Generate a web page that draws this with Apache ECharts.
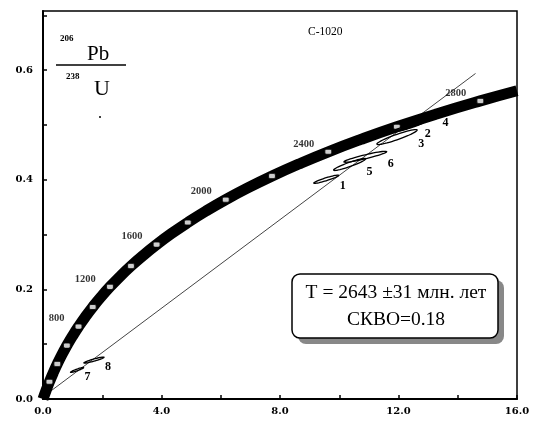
<!DOCTYPE html>
<html>
<head>
<meta charset="utf-8">
<script src="https://cdn.jsdelivr.net/npm/echarts@6/dist/echarts.min.js"></script>
<style>
html,body{margin:0;padding:0;background:#fff;}
#chart{width:539px;height:424px;}
</style>
</head>
<body>
<div id="chart"></div>
<script>
// Concordia curve points (207Pb/235U, 206Pb/238U), every 100 Ma; last point at the right frame
const concordiaX = [0, 0.1035, 0.2177, 0.3437, 0.4828, 0.6363, 0.8056, 0.9925, 1.1987, 1.4264, 1.6774, 1.9546, 2.2603, 2.5977, 2.9701, 3.3810, 3.8344, 4.3348, 4.8870, 5.4963, 6.1686, 6.9107, 7.7295, 8.6330, 9.6300, 10.7302, 11.9443, 13.2840, 14.7625, 16.0];
const concordiaY = [0, 0.0156, 0.0315, 0.0476, 0.0640, 0.0807, 0.0975, 0.1147, 0.1321, 0.1498, 0.1678, 0.1861, 0.2046, 0.2234, 0.2426, 0.2620, 0.2817, 0.3018, 0.3221, 0.3428, 0.3638, 0.3851, 0.4067, 0.4287, 0.4511, 0.4737, 0.4968, 0.5202, 0.5440, 0.5625];
// Age markers on the concordia (Ma)
const markerAges = [200, 400, 600, 800, 1000, 1200, 1400, 1600, 1800, 2000, 2200, 2400, 2600, 2800];
const markerX = [0.2177, 0.4828, 0.8056, 1.1987, 1.6774, 2.2603, 2.9701, 3.8344, 4.8870, 6.1686, 7.7295, 9.6300, 11.9443, 14.7625];
const markerY = [0.0315, 0.0640, 0.0975, 0.1321, 0.1678, 0.2046, 0.2426, 0.2817, 0.3221, 0.3638, 0.4067, 0.4511, 0.4968, 0.5440];
const labeledAges = [800, 1200, 1600, 2000, 2400, 2800];
// Discordia line end points
const discordiaX = [0.15, 14.6];
const discordiaY = [0.010, 0.594];
// Analyses (error ellipses)
const pointLabels = ['1', '2', '3', '4', '5', '6', '7', '8'];
const pointX  = [9.56, 12.35, 11.95, 13.10, 10.35, 10.88, 1.15, 1.72];
const pointY  = [0.401, 0.497, 0.478, 0.516, 0.428, 0.442, 0.053, 0.071];
const errX    = [0.42, 0.50, 0.68, 0.35, 0.54, 0.72, 0.22, 0.34];
const errY    = [0.0075, 0.009, 0.0137, 0.0055, 0.011, 0.010, 0.0045, 0.0055];
const errRho  = [0.93, 0.93, 0.93, 0.93, 0.93, 0.93, 0.93, 0.93];
// Axis tick labels
const xTickLabels = {0: '0.0', 4: '4.0', 8: '8.0', 12: '12.0', 16: '16.0'};
const yTickLabels = {0: '0.0', 2: '0.2', 4: '0.4', 6: '0.6'};

const chart = echarts.init(document.getElementById('chart'), null, {renderer: 'canvas'});

const tickFont = {color: '#000', fontFamily: 'DejaVu Serif', fontWeight: 'bold', fontSize: 10};

const ellipseData = pointX.map((x, i) => [x, pointY[i], errX[i], errY[i], errRho[i], i]);

const option = {
  animation: false,
  grid: {left: 43, right: 22, top: 11, bottom: 25, show: true, borderColor: '#000', borderWidth: 1.5, backgroundColor: 'transparent'},
  xAxis: {
    type: 'value', min: 0, max: 16, interval: 2,
    axisLine: {show: true, onZero: false, lineStyle: {color: '#000', width: 2}},
    axisTick: {show: true, inside: true, length: 4, lineStyle: {color: '#000', width: 1.5}},
    splitLine: {show: false},
    axisLabel: Object.assign({margin: 7, formatter: v => (xTickLabels[Math.round(v)] !== undefined && Math.abs(v - Math.round(v)) < 1e-6) ? xTickLabels[Math.round(v)] : ''}, tickFont)
  },
  yAxis: {
    type: 'value', min: 0, max: 0.708, interval: 0.1,
    axisLine: {show: true, onZero: false, lineStyle: {color: '#000', width: 2}},
    axisTick: {show: true, inside: true, length: 4, lineStyle: {color: '#000', width: 1.5}},
    splitLine: {show: false},
    axisLabel: Object.assign({margin: 10, showMaxLabel: false, formatter: v => {
      const k = Math.round(v * 10);
      if (Math.abs(v * 10 - k) > 1e-6) return '';
      return yTickLabels[k] !== undefined ? yTickLabels[k] : '';
    }}, tickFont)
  },
  series: [
    {
      type: 'line', name: 'discordia', data: discordiaX.map((x, i) => [x, discordiaY[i]]),
      symbol: 'none', lineStyle: {color: '#444', width: 1}, z: 2
    },
    {
      type: 'line', name: 'concordia', data: concordiaX.map((x, i) => [x, concordiaY[i]]),
      symbol: 'none', smooth: true, clip: true, lineStyle: {color: '#000', width: 11, cap: 'butt'}, z: 3
    },
    {
      type: 'scatter', name: 'ages', data: markerX.map((x, i) => [x, markerY[i], markerAges[i]]),
      symbol: 'roundRect', symbolSize: [7, 5],
      itemStyle: {color: '#fff', borderColor: '#000', borderWidth: 1}, z: 4,
      label: {
        show: true, position: 'left', distance: 10, offset: [0, -8],
        fontFamily: 'Liberation Serif', fontWeight: 'bold', fontSize: 10.5, color: '#000',
        formatter: p => labeledAges.indexOf(p.value[2]) >= 0 ? String(p.value[2]) : ''
      }
    },
    {
      type: 'custom', name: 'ellipses', data: ellipseData, z: 5, clip: true,
      renderItem: (params, api) => {
        const cx = api.value(0), cy = api.value(1), sx = api.value(2), sy = api.value(3), r = api.value(4);
        const idx = api.value(5);
        const pts = [];
        const n = 48;
        for (let k = 0; k <= n; k++) {
          const th = 2 * Math.PI * k / n;
          const px = cx + sx * Math.cos(th);
          const py = cy + sy * (r * Math.cos(th) + Math.sqrt(1 - r * r) * Math.sin(th));
          pts.push(api.coord([px, py]));
        }
        const c = api.coord([cx, cy]);
        const right = api.coord([cx + sx, cy]);
        return {
          type: 'group',
          children: [
            {type: 'polygon', shape: {points: pts}, style: {fill: 'rgba(255,255,255,0)', stroke: '#000', lineWidth: 1.3}},
            {type: 'text', style: {text: pointLabels[idx], x: right[0] + 4, y: c[1] + 7, fill: '#000',
              font: 'bold 12px "Liberation Serif"', textAlign: 'center', textVerticalAlign: 'middle'}}
          ]
        };
      }
    }
  ],
  graphic: [
    {type: 'text', left: 60, top: 34, style: {text: '206', font: 'bold 9px "Liberation Serif"', fill: '#000'}},
    {type: 'text', left: 87, top: 44, style: {text: 'Pb', font: '21px "Liberation Serif"', fill: '#000'}},
    {type: 'line', shape: {x1: 56, y1: 65, x2: 126, y2: 65}, style: {stroke: '#000', lineWidth: 1.5}},
    {type: 'text', left: 66, top: 72, style: {text: '238', font: 'bold 9px "Liberation Serif"', fill: '#000'}},
    {type: 'text', left: 94, top: 78, style: {text: 'U', font: '22px "Liberation Serif"', fill: '#000'}},
    {type: 'circle', shape: {cx: 100, cy: 117, r: 1}, style: {fill: '#000'}},
    {type: 'text', left: 308, top: 26, style: {text: 'C-1020', font: '11.5px "Liberation Serif"', fill: '#000'}},
    {type: 'rect', shape: {x: 298, y: 280, width: 206, height: 64, r: 8}, style: {fill: '#888'}, z: 10},
    {type: 'rect', shape: {x: 292, y: 274, width: 206, height: 64, r: 8}, style: {fill: '#fff', stroke: '#000', lineWidth: 1.5}, z: 11},
    {type: 'text', x: 396, y: 293, z: 12, style: {text: 'T = 2643 ±31 млн. лет', font: '19.5px "Liberation Serif"', fill: '#000', textAlign: 'center', textVerticalAlign: 'middle'}},
    {type: 'text', x: 396, y: 320, z: 12, style: {text: 'СКВО=0.18', font: '19.5px "Liberation Serif"', fill: '#000', textAlign: 'center', textVerticalAlign: 'middle'}}
  ]
};
chart.setOption(option);
</script>
</body>
</html>
